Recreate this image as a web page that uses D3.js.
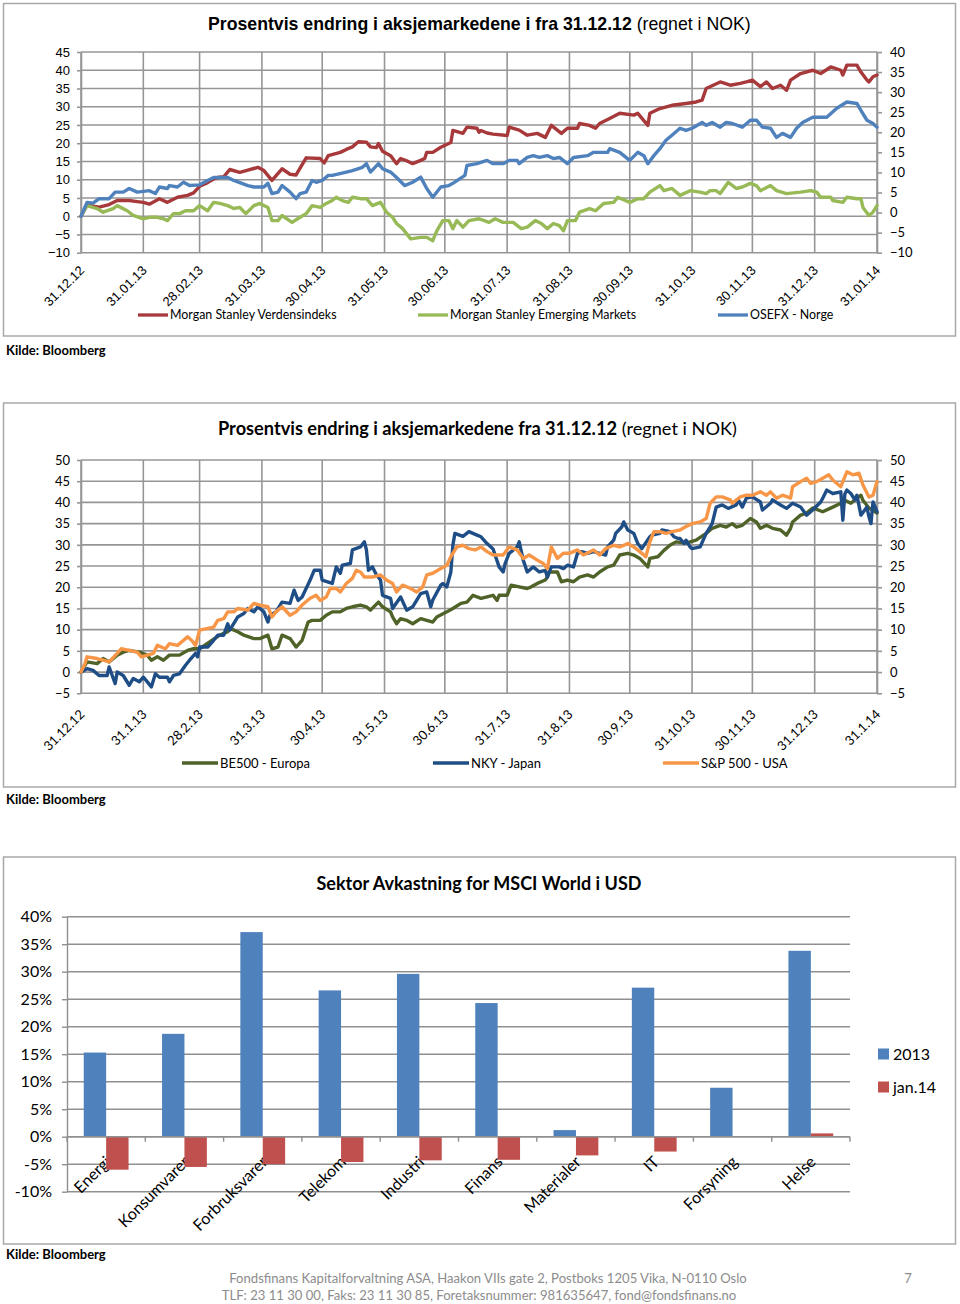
<!DOCTYPE html>
<html><head><meta charset="utf-8">
<script src="https://cdn.jsdelivr.net/npm/d3@7"></script>
<style>body{margin:0;background:#fff;}svg{display:block;}</style>
</head><body>
<svg id="c" width="960" height="1304"></svg>
<script>
// ---------- DATA ----------
const monthEnds = ["2012-12-31","2013-01-31","2013-02-28","2013-03-31","2013-04-30","2013-05-31","2013-06-30","2013-07-31","2013-08-31","2013-09-30","2013-10-31","2013-11-30","2013-12-31","2014-01-31"];
const tickLabels1 = ["31.12.12","31.01.13","28.02.13","31.03.13","30.04.13","31.05.13","30.06.13","31.07.13","31.08.13","30.09.13","31.10.13","30.11.13","31.12.13","31.01.14"];
const tickLabels2 = ["31.12.12","31.1.13","28.2.13","31.3.13","30.4.13","31.5.13","30.6.13","31.7.13","31.8.13","30.9.13","31.10.13","30.11.13","31.12.13","31.1.14"];
const leftTicks1 = [-10,-5,0,5,10,15,20,25,30,35,40,45];
const rightTicks1 = [-10,-5,0,5,10,15,20,25,30,35,40];
const ticks2 = [-5,0,5,10,15,20,25,30,35,40,45,50];

// [days since 31.12.12, % change]
const msWorld = [[0,0],[3,3],[9,2.5],[14,3.2],[18,4.3],[24,4.3],[28,4.0],[31,3.8],[34,3.3],[39,4.8],[43,3.8],[48,5.2],[53,5.7],[56,6.4],[59,8.2],[63,9.2],[66,10.2],[68,10.6],[71,10.8],[74,12.8],[79,12],[83,12.6],[88,13.4],[91,12.5],[95,9.8],[100,13],[104,11.5],[107,11.3],[112,16],[119,15.8],[121,14.6],[123,16.6],[129,17.5],[132,18.3],[135,19],[138,20.4],[142,20.3],[144,19],[147,18.8],[148,19.9],[150,17.8],[154,16.6],[157,14.4],[159,15.8],[162,15.2],[165,14.4],[169,15.3],[171,15.8],[172,17.5],[175,17.5],[179,18.9],[184,20.2],[185,23.5],[190,22.7],[192,24.4],[197,24.1],[198,23],[199,23.5],[202,22.8],[205,22.5],[212,22.1],[213,24.4],[218,23.6],[222,22.2],[227,22.7],[231,21.6],[234,24.9],[239,22.7],[242,24.1],[247,24.1],[248,25.4],[253,24.9],[256,24.1],[258,25.4],[263,26.8],[268,28.2],[275,27.7],[277,28.2],[282,24.9],[283,28.2],[288,29.5],[294,30.4],[301,30.9],[306,31.3],[309,31.8],[311,35],[318,36.8],[323,35.9],[328,36.4],[331,36.8],[334,37.3],[338,35.5],[341,36.8],[344,35],[348,35.9],[351,34.5],[353,37.3],[358,39.1],[364,40],[368,39.1],[373,40.9],[378,40],[379,38.7],[381,41.4],[386,41.4],[388,39.5],[391,37.3],[392,36.8],[394,38.2],[396,38.7]];
const msEM = [[0,0],[3,2.9],[8,2.1],[11,1.1],[16,2.1],[18,2.9],[23,1.5],[26,0.2],[31,-0.7],[34,-0.3],[38,-0.3],[41,-0.7],[43,-1.2],[46,0.7],[49,0.7],[52,1.5],[56,1.5],[59,2.9],[63,1.5],[66,3.8],[69,3.5],[73,2.9],[76,2.1],[79,2.4],[82,0.7],[86,2.9],[89,3.5],[93,2.4],[95,-1.2],[98,-1.2],[100,0.2],[105,-1.7],[109,-0.3],[112,0.7],[115,2.9],[119,2.4],[122,3.5],[125,4.3],[127,5.2],[130,4.3],[133,3.8],[135,5.2],[139,4.8],[142,4.8],[145,2.9],[149,3.8],[152,1.1],[155,-0.3],[157,-2],[160,-3.4],[164,-6.2],[169,-5.8],[172,-5.8],[175,-6.7],[177,-4],[180,-1.2],[183,-1.2],[185,-3.4],[187,-1.2],[190,-3],[193,-1.2],[198,-0.7],[203,-1.7],[206,-0.7],[210,-1.7],[215,-1.7],[219,-3.4],[222,-3],[226,-1.2],[229,-2],[232,-3.4],[235,-2],[238,-2.6],[240,-4],[242,-1.2],[246,-1.2],[248,1.1],[253,2.1],[256,1.5],[260,3.5],[265,3.8],[267,5.2],[273,3.8],[277,4.8],[280,4.8],[283,6.6],[288,8.4],[290,7],[294,7.6],[298,5.7],[303,7],[308,6.6],[311,6.2],[313,7],[316,7],[318,6.2],[322,9.3],[326,7.6],[329,8],[333,9],[336,8.4],[338,7],[343,8.4],[346,7],[351,6.2],[358,6.6],[363,7],[366,6.6],[368,5.2],[373,5.2],[374,4.3],[379,3.8],[381,5.2],[386,4.8],[388,4.8],[389,2.4],[392,0.2],[394,1.1],[396,2.9]];
const osefx = [[0,0],[3,3.8],[6,3.6],[9,4.8],[14,4.8],[17,6.6],[21,6.6],[24,7.6],[28,6.6],[31,6.8],[34,7],[37,6.2],[39,8],[43,7.6],[44,8.4],[48,8],[51,9.3],[54,8.4],[59,8.6],[63,9.8],[66,10.6],[73,10.6],[76,9.8],[83,8.4],[86,8],[91,8],[93,9],[95,6.2],[98,6.6],[100,8.4],[104,6.6],[107,4.8],[109,6.2],[112,6.6],[115,9.8],[117,9.3],[120,9.8],[123,11.2],[125,11.2],[132,12.1],[135,12.5],[140,13.4],[142,14.4],[144,12.1],[148,14.4],[150,13],[154,12.1],[157,10.6],[161,8.4],[165,9.3],[169,10.7],[172,7.6],[175,5.2],[179,8],[183,8.4],[185,9],[191,11.2],[192,13.9],[197,14.4],[202,15.3],[205,14.4],[210,14.4],[213,15.3],[217,15.3],[218,14.4],[222,16.1],[225,16.6],[228,16.1],[232,16.6],[235,15.8],[238,16.1],[242,14.4],[245,16.1],[252,16.6],[255,17.5],[262,17.5],[263,18.5],[268,17.5],[273,15.3],[277,17.5],[280,16.6],[282,14.4],[285,16.6],[288,18.5],[291,20.8],[294,22.2],[298,24.1],[301,23.5],[304,24.1],[309,25.7],[311,24.9],[314,25.7],[318,24.4],[321,25.7],[324,25.4],[329,24.4],[333,26.3],[336,26.3],[339,24.4],[343,24.1],[346,21.6],[349,22.7],[353,21.6],[356,24.1],[359,25.7],[364,27.1],[371,27.1],[376,29.6],[381,31.3],[386,30.9],[388,29],[391,26.3],[394,25.4],[396,24.4]];

const be500 = [[0,0],[3,2.4],[8,2],[11,3.2],[14,2.4],[18,4],[21,4.7],[24,5.1],[29,4.7],[33,4],[35,2.8],[38,3.6],[41,2.8],[44,4],[49,4],[53,5.1],[56,5.5],[59,5.5],[64,7.1],[69,8.7],[73,9.5],[74,10.3],[78,9.5],[81,8.7],[86,7.9],[89,7.9],[93,8.7],[95,5.5],[98,5.9],[100,8.7],[104,7.9],[107,5.9],[110,7.5],[113,11.8],[115,12.2],[119,12.2],[122,13.4],[125,14.2],[129,14.2],[132,15],[135,15.4],[139,15.8],[142,15.4],[144,14.6],[148,16.5],[150,15.4],[154,14.2],[155,13],[157,11.4],[159,12.6],[162,12.2],[165,11.4],[169,12.6],[172,12.2],[175,11.8],[177,13],[182,14.2],[185,15],[189,16.2],[192,16.5],[195,18.1],[199,17.4],[205,18.1],[207,16.9],[208,18.1],[212,18.1],[214,20.5],[218,20.1],[222,19.7],[224,20.1],[227,20.9],[231,21.7],[232,22.4],[233,23.6],[237,23.6],[239,21.3],[242,21.7],[245,21.3],[248,22.4],[252,22.9],[255,22.4],[258,23.6],[262,24.8],[265,25.2],[268,27.6],[272,28],[275,27.6],[278,26.8],[282,24.8],[283,26.8],[287,27.2],[290,28.7],[293,29.9],[296,30.7],[301,30.4],[306,31.1],[311,32.7],[314,33.9],[318,34.6],[321,34.2],[324,35],[326,34.2],[329,34.6],[333,36.2],[336,35.4],[338,33.9],[341,34.6],[344,33.9],[348,33.5],[351,32.3],[353,33.9],[354,35.4],[358,37],[361,37.5],[364,38.7],[369,37.8],[374,38.9],[378,39.8],[380,40.5],[383,39.8],[386,41],[388,41.7],[389,40.5],[392,38.7],[396,37.5]];
const nky = [[0,0],[3,0.8],[6,0.4],[9,-0.8],[13,-0.8],[14,1.2],[17,-2.7],[18,0],[21,-0.8],[24,-3.1],[26,-1.5],[29,-2.3],[31,-1.2],[33,-2.3],[35,-3.5],[37,-0.4],[39,-1.2],[43,-1.2],[44,-2.3],[46,-0.8],[49,-0.4],[52,1.6],[54,2.8],[57,4.4],[58,3.6],[59,5.9],[63,5.9],[66,7.5],[68,8.7],[71,8.7],[73,11.4],[74,9.9],[78,13],[81,13.8],[83,15],[86,14.2],[88,15.4],[91,14.2],[93,11.8],[94,13.4],[97,14.2],[100,16.5],[104,16.2],[106,19.3],[108,16.9],[110,17.7],[114,21.7],[116,24],[119,24],[120,21.7],[125,20.9],[127,24.8],[129,23.3],[130,25.2],[134,25.6],[135,28.8],[139,29.5],[141,30.7],[142,28.8],[143,24],[145,24.8],[147,22.9],[149,21.7],[150,18.1],[154,17.4],[155,15],[159,17.7],[162,14.6],[165,15.4],[169,18.5],[172,18.9],[174,15.4],[175,17],[179,20.5],[180,20.9],[182,20.1],[184,23.6],[185,29.9],[186,32.7],[190,32],[193,33.1],[197,32.3],[199,31.9],[202,30.3],[205,29],[208,24.8],[210,23.6],[211,25.6],[213,28],[217,29.5],[218,30.7],[220,26.4],[222,23.6],[225,24.8],[228,23.6],[231,24],[232,22.4],[234,24.8],[238,24.8],[240,24.4],[242,25.2],[245,24.8],[247,28],[249,28.4],[252,28],[255,28.4],[258,28],[261,27.6],[262,29.5],[265,31.1],[266,32.7],[269,34.2],[270,35.4],[272,33.5],[275,32.7],[277,30.3],[279,29.1],[283,31.9],[284,32.3],[288,32.7],[289,33.5],[293,33.1],[295,31.9],[297,31.5],[298,31.5],[300,30.3],[301,31.1],[303,29.5],[304,29.1],[308,29.5],[311,32.7],[314,35],[316,38.9],[319,39.4],[322,38.6],[326,39.4],[327,40.6],[329,38.9],[331,41],[334,41.3],[338,40.1],[339,38.2],[343,39.8],[344,40.6],[348,39.4],[351,38.6],[354,39.8],[358,38.9],[361,37],[364,38.2],[368,40.1],[369,41],[371,42.9],[374,42.1],[378,42.5],[379,35.8],[380,42],[381,42.9],[383,42.1],[385,40.6],[386,41.7],[388,37],[391,38.9],[392,36.6],[393,35],[394,40.1],[396,37.8]];
const sp500 = [[0,0],[2,2],[3,3.6],[8,3.2],[11,2.8],[14,2.4],[18,4.4],[20,5.5],[24,5.1],[28,4.7],[30,3.6],[33,4],[36,4.4],[38,6.3],[42,5.5],[44,6.7],[48,6.3],[50,7.1],[53,8.3],[55,7.5],[57,6.3],[59,9.9],[63,10.3],[66,10.6],[68,12.2],[71,12.6],[73,14.2],[76,14.2],[78,15],[83,14.6],[86,16.2],[89,15.8],[93,15.4],[95,13],[97,14.2],[100,15.4],[104,13.4],[107,14.2],[110,15.8],[114,17.4],[117,18.1],[119,16.9],[122,17.7],[124,19.7],[127,19.7],[129,18.9],[132,20.9],[135,22.1],[137,24],[139,23.6],[141,22.4],[145,22.4],[149,22.9],[152,21.7],[155,20.9],[157,18.9],[160,20.5],[164,19.7],[167,18.9],[170,20.1],[172,22.9],[175,23.3],[179,24.4],[182,25.2],[184,27.2],[187,29.5],[190,29.9],[193,29.1],[196,28.8],[199,29.5],[202,28.4],[205,27.6],[210,27.6],[213,29.5],[217,28.8],[220,26.8],[223,27.6],[227,26.4],[230,25.6],[232,24.4],[234,29.5],[237,26.8],[240,28],[243,28],[247,28.8],[250,27.6],[255,28.8],[258,27.6],[261,29.1],[265,29.9],[268,29.5],[272,30.3],[275,29.5],[278,28.4],[281,27.2],[283,30.7],[285,33.1],[288,33.1],[291,32.7],[294,33.1],[298,33.5],[301,34.3],[304,35],[308,35.4],[311,36.2],[313,39.8],[316,41.3],[319,41.3],[323,40.6],[324,39.8],[328,41.3],[331,41.7],[334,41.7],[338,42.5],[341,41.7],[343,42.5],[346,41],[349,41.7],[353,41],[354,43.7],[358,44.9],[361,45.7],[363,44.5],[366,44.9],[369,45.7],[372,46.5],[374,45.3],[378,43.7],[381,47.2],[384,46.5],[387,46.9],[389,44.1],[392,41.3],[394,41.7],[396,44.9]];

const sectors = ["Energi","Konsumvarer","Forbruksvarer","Telekom","Industri","Finans","Materialer","IT","Forsyning","Helse"];
const ret2013 = [15.3,18.7,37.2,26.6,29.6,24.3,1.2,27.1,8.9,33.8];
const retJan14 = [-6.0,-5.5,-5.0,-4.6,-4.3,-4.2,-3.4,-2.7,0,0.6];
const barTicks = [-10,-5,0,5,10,15,20,25,30,35,40];

// ---------- STYLE ----------
const ARIAL = "'Liberation Sans', Arial, sans-serif";
const CAL = "Lato, 'Open Sans', sans-serif";
const GRID = "#969696";
const svg = d3.select("#c");
const parse = d3.timeParse("%Y-%m-%d");
const start = parse("2012-12-31"), end = parse("2014-01-31");

function frame(y0, y1) {
  svg.append("rect").attr("x", 3.5).attr("y", y0).attr("width", 952).attr("height", y1 - y0)
    .attr("fill", "none").attr("stroke", "#a8a8a8").attr("stroke-width", 1.5);
}
function source(y) {
  svg.append("text").attr("x", 6).attr("y", y).attr("font-family", CAL).attr("font-weight", "bold")
    .attr("font-size", 13).text("Kilde: Bloomberg");
}

function lineChart(o) {
  const g = svg.append("g");
  const x = d3.scaleTime().domain([start, end]).range([81, 877]);
  const y = d3.scaleLinear().domain(o.yDomain).range([o.bottom, o.top]);
  const yr = d3.scaleLinear().domain(o.rDomain).range([o.bottom, o.top]);
  g.append("g").selectAll("line").data(o.yTicks).join("line")
    .attr("x1", 81).attr("x2", 877).attr("y1", d => y(d)).attr("y2", d => y(d))
    .attr("stroke", GRID).attr("stroke-width", 1.6);
  g.append("g").selectAll("line").data(monthEnds.map(parse)).join("line")
    .attr("x1", d => x(d)).attr("x2", d => x(d)).attr("y1", o.top).attr("y2", o.bottom)
    .attr("stroke", GRID).attr("stroke-width", 1.6);
  const la = g.append("g").attr("transform", "translate(81,0)")
    .call(d3.axisLeft(y).tickValues(o.yTicks).tickSize(4).tickSizeOuter(0).tickPadding(7).tickFormat(d3.format("d")));
  la.attr("font-family", o.leftFont).attr("font-size", 13);
  const ra = g.append("g").attr("transform", "translate(877,0)")
    .call(d3.axisRight(yr).tickValues(o.rTicks).tickSize(5).tickSizeOuter(0).tickPadding(8).tickFormat(d3.format("d")));
  ra.attr("font-family", CAL).attr("font-size", 13);
  [la, ra].forEach(a => {
    a.selectAll("path,line").attr("stroke", GRID).attr("stroke-width", 1.6);
    a.selectAll("text").attr("fill", "#000");
  });
  const line = d3.line().x(d => x(d.date)).y(d => y(d.v));
  o.series.forEach(s => {
    g.append("path").datum(s.data.map(([d, v]) => ({ date: d3.timeDay.offset(start, d), v })))
      .attr("d", line).attr("fill", "none").attr("stroke", s.color).attr("stroke-width", 3.4)
      .attr("stroke-linejoin", "round").attr("stroke-linecap", "round");
  });
  g.append("g").selectAll("text").data(monthEnds).join("text")
    .attr("transform", d => `translate(${x(parse(d)) + 1},${o.labelY}) rotate(-45)`)
    .attr("text-anchor", "end").attr("dy", "0.35em")
    .attr("font-family", o.xFont).attr("font-size", o.xSize)
    .text((d, i) => o.labels[i]);
  o.series.forEach((s, i) => {
    const lx = o.legendX[i];
    g.append("line").attr("x1", lx).attr("x2", lx + o.legendLen).attr("y1", o.legendY).attr("y2", o.legendY)
      .attr("stroke", s.color).attr("stroke-width", 3.3);
    g.append("text").attr("x", lx + o.legendLen + 2).attr("y", o.legendY).attr("dy", "0.35em")
      .attr("font-family", CAL).attr("font-size", o.legendSize).text(s.name);
  });
}

// ---------- CHART 1 ----------
frame(3.5, 336);
svg.append("text").attr("x", 208).attr("y", 30).attr("font-family", ARIAL).attr("font-size", 17.7)
  .call(t => {
    t.append("tspan").attr("font-weight", "bold").text("Prosentvis endring i aksjemarkedene i fra 31.12.12 ");
    t.append("tspan").text("(regnet i NOK)");
  });
lineChart({
  top: 52, bottom: 252.7, yDomain: [-10, 45], yTicks: leftTicks1, rDomain: [-10, 40], rTicks: rightTicks1,
  leftFont: ARIAL, xFont: ARIAL, xSize: 13, labels: tickLabels1, labelY: 268,
  legendX: [138, 418, 718], legendLen: 30, legendY: 315, legendSize: 12.4,
  series: [
    { name: "Morgan Stanley Verdensindeks", data: msWorld, color: "#A8393B" },
    { name: "Morgan Stanley Emerging Markets", data: msEM, color: "#97BA57" },
    { name: "OSEFX - Norge", data: osefx, color: "#4F81BD" }
  ]
});
source(355);

// ---------- CHART 2 ----------
frame(403, 787);
svg.append("text").attr("x", 218).attr("y", 435).attr("font-family", CAL).attr("font-size", 18.2)
  .call(t => {
    t.append("tspan").attr("font-weight", "bold").text("Prosentvis endring i aksjemarkedene fra 31.12.12");
    t.append("tspan").text(" (regnet i NOK)");
  });
lineChart({
  top: 460, bottom: 693.3, yDomain: [-5, 50], yTicks: ticks2, rDomain: [-5, 50], rTicks: ticks2,
  leftFont: CAL, xFont: CAL, xSize: 13, labels: tickLabels2, labelY: 712,
  legendX: [182, 433, 663], legendLen: 36, legendY: 763, legendSize: 13,
  series: [
    { name: "BE500 - Europa", data: be500, color: "#4F6228" },
    { name: "NKY - Japan", data: nky, color: "#1F4E87" },
    { name: "S&P 500 - USA", data: sp500, color: "#F79646" }
  ]
});
source(804);

// ---------- CHART 3 ----------
frame(857, 1244);
svg.append("text").attr("x", 479).attr("y", 890).attr("text-anchor", "middle").attr("font-family", CAL)
  .attr("font-weight", "bold").attr("font-size", 18).text("Sektor Avkastning for MSCI World i USD");
{
  const g = svg.append("g");
  const x = d3.scaleBand().domain(sectors).range([67, 850]);
  const y = d3.scaleLinear().domain([-10, 40]).range([1191.7, 916.7]);
  const bw = 22.4;
  g.append("g").selectAll("line").data(barTicks).join("line")
    .attr("x1", 67).attr("x2", 850).attr("y1", d => y(d)).attr("y2", d => y(d))
    .attr("stroke", "#8f8f8f").attr("stroke-width", 1.4);
  const la = g.append("g").attr("transform", "translate(67,0)")
    .call(d3.axisLeft(y).tickValues(barTicks).tickSize(5).tickSizeOuter(0).tickPadding(10).tickFormat(d => d + "%"));
  la.attr("font-family", CAL).attr("font-size", 16);
  la.selectAll("path,line").attr("stroke", "#8f8f8f").attr("stroke-width", 1.4);
  la.selectAll("text").attr("fill", "#000");
  // category labels (under bars)
  g.append("g").selectAll("text").data(sectors).join("text")
    .attr("transform", d => `translate(${x(d) + x.bandwidth() / 2 + 2},1159) rotate(-45)`)
    .attr("text-anchor", "end").attr("dy", "0.35em").attr("font-family", CAL).attr("font-size", 16)
    .text(d => d);
  g.append("g").selectAll("rect").data(sectors).join("rect")
    .attr("x", d => x(d) + x.bandwidth() / 2 - bw).attr("width", bw)
    .attr("y", (d, i) => y(Math.max(0, ret2013[i]))).attr("height", (d, i) => Math.abs(y(ret2013[i]) - y(0)))
    .attr("fill", "#4F81BD");
  g.append("g").selectAll("rect").data(sectors).join("rect")
    .attr("x", d => x(d) + x.bandwidth() / 2).attr("width", bw)
    .attr("y", (d, i) => y(Math.max(0, retJan14[i]))).attr("height", (d, i) => Math.abs(y(retJan14[i]) - y(0)))
    .attr("fill", "#C0504D");
  // zero axis with category ticks
  g.append("line").attr("x1", 67).attr("x2", 850).attr("y1", y(0)).attr("y2", y(0)).attr("stroke", "#8f8f8f").attr("stroke-width", 1.4);
  g.append("g").selectAll("line").data(d3.range(sectors.length + 1)).join("line")
    .attr("x1", i => 67 + i * x.step()).attr("x2", i => 67 + i * x.step())
    .attr("y1", y(0)).attr("y2", y(0) + 5).attr("stroke", "#8f8f8f").attr("stroke-width", 1.4);
  // legend
  const leg = [["2013", "#4F81BD", 1054], ["jan.14", "#C0504D", 1087]];
  leg.forEach(([name, c, ly]) => {
    g.append("rect").attr("x", 878).attr("y", ly - 5.5).attr("width", 11).attr("height", 11).attr("fill", c);
    g.append("text").attr("x", 893).attr("y", ly).attr("dy", "0.35em").attr("font-family", CAL).attr("font-size", 16).text(name);
  });
}
source(1259);

// ---------- FOOTER ----------
svg.append("text").attr("x", 488).attr("y", 1283).attr("text-anchor", "middle").attr("font-family", CAL)
  .attr("font-size", 13.1).attr("fill", "#8c8c8c")
  .text("Fondsfinans Kapitalforvaltning ASA, Haakon VIIs gate 2, Postboks 1205 Vika, N-0110 Oslo");
svg.append("text").attr("x", 479).attr("y", 1300).attr("text-anchor", "middle").attr("font-family", CAL)
  .attr("font-size", 13.1).attr("fill", "#8c8c8c")
  .text("TLF: 23 11 30 00, Faks: 23 11 30 85, Foretaksnummer: 981635647, fond@fondsfinans.no");
svg.append("text").attr("x", 908).attr("y", 1283).attr("text-anchor", "middle").attr("font-family", CAL)
  .attr("font-size", 13.1).attr("fill", "#8c8c8c").text("7");
</script>
</body></html>
